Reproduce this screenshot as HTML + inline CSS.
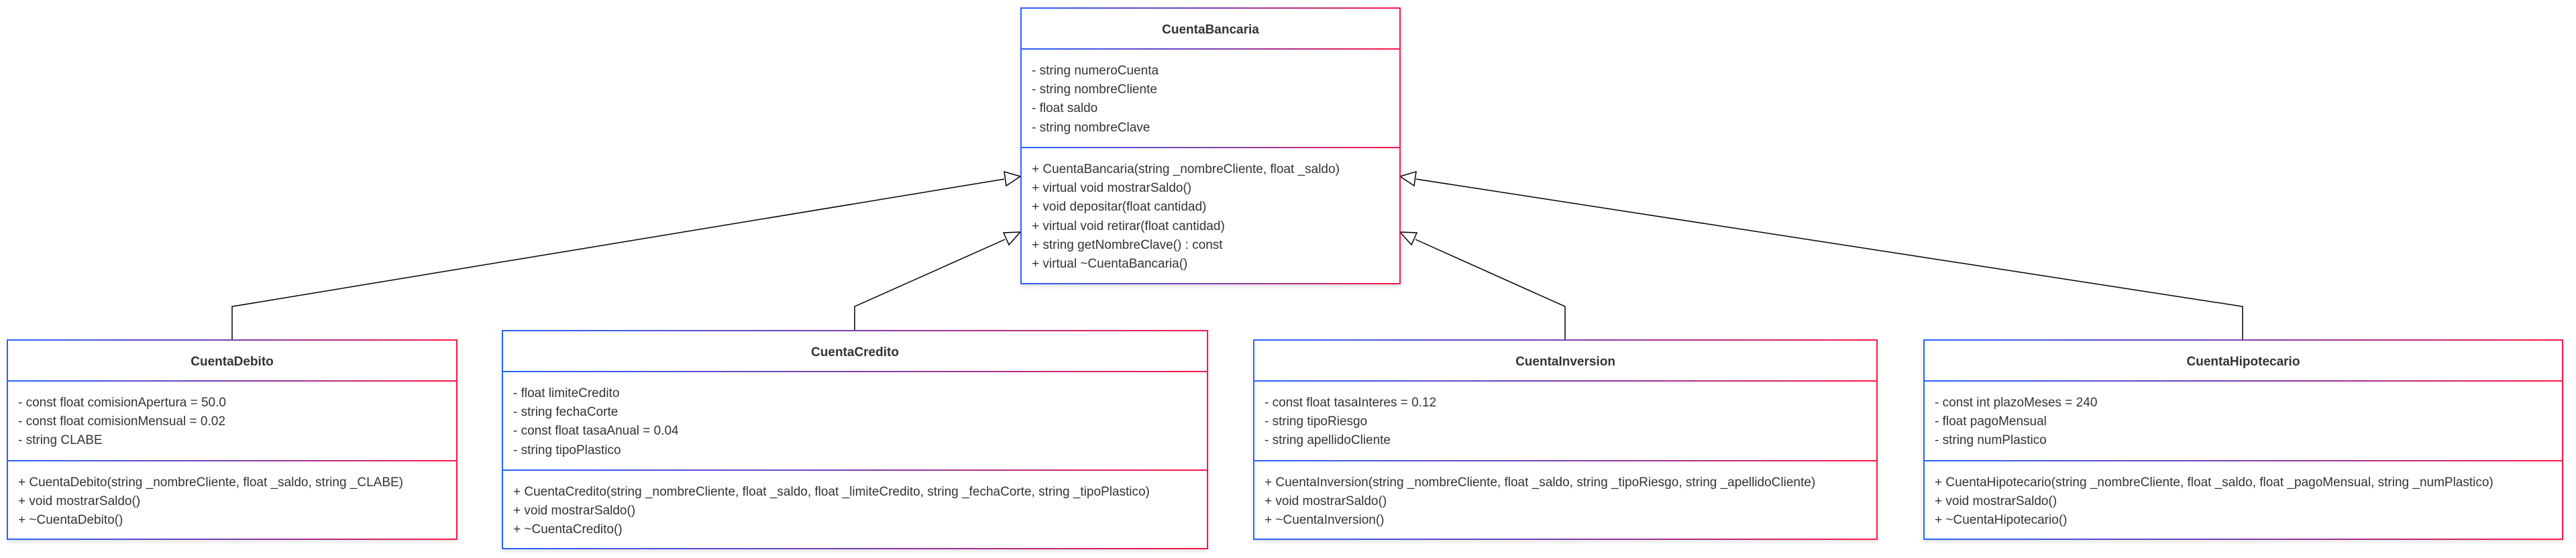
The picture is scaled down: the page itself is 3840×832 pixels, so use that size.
<!DOCTYPE html>
<html><head><meta charset="utf-8"><style>
body{margin:0;width:3840px;height:832px;background:#fff;position:relative;overflow:hidden;font-family:"Liberation Sans",Arial,sans-serif;color:#333}
.box{position:absolute;background:#fff;box-sizing:border-box;border:2px solid;border-image:linear-gradient(to right,#2962ff,#7b3fb0,#ff1744) 1;box-shadow:0 3px 6px rgba(0,0,0,.12)}
.t{position:absolute;left:0;right:0;text-align:center;font-weight:bold;font-size:19px;line-height:22px}
.d{position:absolute;left:0;right:0;height:2px;background:linear-gradient(to right,#2962ff,#7b3fb0,#ff1744)}
.l{position:absolute;left:15px;font-size:19px;line-height:28.2px;white-space:pre}
svg{position:absolute;left:0;top:0}
</style></head><body>
<svg width="3840" height="832">
<g fill="none" stroke="#000" stroke-width="1.5">
<polyline points="346,506 346,457 1497,267"/>
<polyline points="1274,492 1274,457 1498,357"/>
<polyline points="2333,506 2333,457 2110,357"/>
<polyline points="3343,506 3343,457 2111,267"/>
</g>
<g fill="#fff" stroke="#000" stroke-width="1.5">
<polygon points="1521,263 1497,256 1500,277"/>
<polygon points="1521,346 1496,347 1504,365"/>
<polygon points="2087,346 2112,347 2104,365"/>
<polygon points="2087,263 2111,256 2108,277"/>
</g>
</svg>

<div class="box" style="left:1521px;top:11px;width:567px;height:413px">
<div class="t" style="top:21px">CuentaBancaria</div>
<div class="d" style="top:59px"></div>
<div class="l" style="top:79px">- string numeroCuenta
- string nombreCliente
- float saldo
- string nombreClave</div>
<div class="d" style="top:206px"></div>
<div class="l" style="top:226px">+ CuentaBancaria(string _nombreCliente, float _saldo)
+ virtual void mostrarSaldo()
+ void depositar(float cantidad)
+ virtual void retirar(float cantidad)
+ string getNombreClave() : const
+ virtual ~CuentaBancaria()</div>
</div>

<div class="box" style="left:10px;top:506px;width:672px;height:299px">
<div class="t" style="top:21px">CuentaDebito</div>
<div class="d" style="top:59px"></div>
<div class="l" style="top:79px">- const float comisionApertura = 50.0
- const float comisionMensual = 0.02
- string CLABE</div>
<div class="d" style="top:178px"></div>
<div class="l" style="top:198px">+ CuentaDebito(string _nombreCliente, float _saldo, string _CLABE)
+ void mostrarSaldo()
+ ~CuentaDebito()</div>
</div>

<div class="box" style="left:748px;top:492px;width:1053px;height:327px">
<div class="t" style="top:21px">CuentaCredito</div>
<div class="d" style="top:59px"></div>
<div class="l" style="top:79px">- float limiteCredito
- string fechaCorte
- const float tasaAnual = 0.04
- string tipoPlastico</div>
<div class="d" style="top:206px"></div>
<div class="l" style="top:226px">+ CuentaCredito(string _nombreCliente, float _saldo, float _limiteCredito, string _fechaCorte, string _tipoPlastico)
+ void mostrarSaldo()
+ ~CuentaCredito()</div>
</div>

<div class="box" style="left:1868px;top:506px;width:931px;height:299px">
<div class="t" style="top:21px">CuentaInversion</div>
<div class="d" style="top:59px"></div>
<div class="l" style="top:79px">- const float tasaInteres = 0.12
- string tipoRiesgo
- string apellidoCliente</div>
<div class="d" style="top:178px"></div>
<div class="l" style="top:198px">+ CuentaInversion(string _nombreCliente, float _saldo, string _tipoRiesgo, string _apellidoCliente)
+ void mostrarSaldo()
+ ~CuentaInversion()</div>
</div>

<div class="box" style="left:2867px;top:506px;width:954px;height:299px">
<div class="t" style="top:21px">CuentaHipotecario</div>
<div class="d" style="top:59px"></div>
<div class="l" style="top:79px">- const int plazoMeses = 240
- float pagoMensual
- string numPlastico</div>
<div class="d" style="top:178px"></div>
<div class="l" style="top:198px">+ CuentaHipotecario(string _nombreCliente, float _saldo, float _pagoMensual, string _numPlastico)
+ void mostrarSaldo()
+ ~CuentaHipotecario()</div>
</div>
</body></html>
